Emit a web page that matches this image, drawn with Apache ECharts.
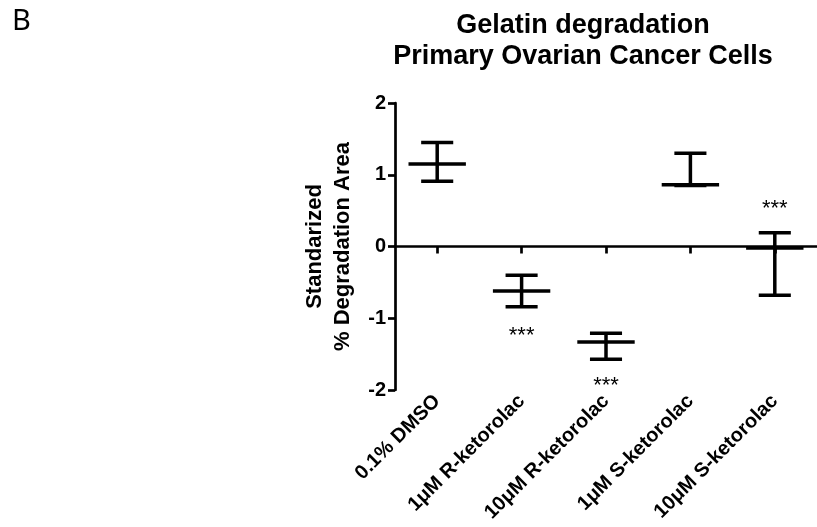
<!DOCTYPE html>
<html>
<head>
<meta charset="utf-8">
<script src="https://cdn.jsdelivr.net/npm/echarts@6/dist/echarts.min.js"></script>
<style>
  html, body { margin: 0; padding: 0; background: #fff; }
  #chart { width: 817px; height: 527px; }
</style>
</head>
<body>
<div id="chart"></div>
<script>
var groups = ['0.1% DMSO', '1μM R-ketorolac', '10μM R-ketorolac', '1μM S-ketorolac', '10μM S-ketorolac'];
var means = [1.15, -0.62, -1.33, 0.86, -0.02];
var upper = [1.45, -0.40, -1.21, 1.30, 0.19];
var lower = [0.91, -0.84, -1.57, 0.85, -0.68];
var starPos = [null, -1.24, -1.94, null, 0.53];
var yTicks = [-2, -1, 0, 1, 2];

var chartDom = document.getElementById('chart');
var myChart = echarts.init(chartDom);
var font = '"Liberation Sans", Arial, sans-serif';

var barData = groups.map((g, i) => [i, means[i], upper[i], lower[i]]);
var starData = [];
starPos.forEach((v, i) => { if (v !== null) starData.push([i, v]); });

function renderBar(params, api) {
  const idx = api.value(0);
  const pm = api.coord([idx, api.value(1)]);
  const pu = api.coord([idx, api.value(2)]);
  const pl = api.coord([idx, api.value(3)]);
  const band = api.size([1, 0])[0];
  const mw = band * 0.34, cw = band * 0.19;
  const st = { stroke: '#000', lineWidth: 3.5, lineCap: 'butt' };
  return {
    type: 'group',
    children: [
      { type: 'line', shape: { x1: pm[0], y1: pu[1], x2: pm[0], y2: pl[1] }, style: st },
      { type: 'line', shape: { x1: pm[0] - cw, y1: pu[1], x2: pm[0] + cw, y2: pu[1] }, style: st },
      { type: 'line', shape: { x1: pm[0] - cw, y1: pl[1], x2: pm[0] + cw, y2: pl[1] }, style: st },
      { type: 'line', shape: { x1: pm[0] - mw, y1: pm[1], x2: pm[0] + mw, y2: pm[1] }, style: st }
    ]
  };
}

function renderStar(params, api) {
  const p = api.coord([api.value(0), api.value(1)]);
  return {
    type: 'text',
    x: p[0], y: p[1],
    style: { text: '***', fontSize: 22, fontFamily: font, fill: '#000', align: 'center', verticalAlign: 'middle' }
  };
}

var option = {
  animation: false,
  title: [
    {
      text: 'Gelatin degradation\nPrimary Ovarian Cancer Cells',
      left: 578, top: 5, textAlign: 'center',
      textStyle: { fontSize: 27, fontWeight: 'bold', fontFamily: font, color: '#000', lineHeight: 31 }
    },
    {
      text: 'B', left: 7, top: 2,
      textStyle: { fontSize: 29, fontWeight: 'normal', fontFamily: '"Noto Sans", sans-serif', color: '#000' }
    }
  ],
  grid: { left: 395, top: 103, width: 430, height: 287 },
  xAxis: [
    {
      type: 'category', data: groups, position: 'bottom',
      axisLine: { show: false, onZero: false }, axisTick: { show: false },
      axisLabel: { rotate: 45, margin: 8, fontSize: 20, fontWeight: 'bold', fontFamily: font, color: '#000', interval: 0 }
    },
    {
      type: 'category', data: groups, position: 'bottom',
      axisLine: { onZero: true, onZeroAxisIndex: 0, lineStyle: { color: '#000', width: 2.7 } },
      axisTick: { show: true, interval: 0, alignWithLabel: true, length: 7, lineStyle: { color: '#000', width: 2.7 } },
      axisLabel: { show: true, interval: 0, color: 'rgba(0,0,0,0)', fontSize: 1 }
    }
  ],
  yAxis: {
    type: 'value', min: yTicks[0], max: yTicks[yTicks.length - 1], interval: 1,
    name: 'Standarized\n% Degradation Area', nameLocation: 'middle', nameGap: 36,
    nameTextStyle: { fontSize: 22, fontWeight: 'bold', fontFamily: font, color: '#000', lineHeight: 28 },
    axisLine: { show: true, lineStyle: { color: '#000', width: 2.7 } },
    axisTick: { show: true, length: 7, lineStyle: { color: '#000', width: 2.7 } },
    axisLabel: { margin: 9, fontSize: 20, fontWeight: 'bold', fontFamily: font, color: '#000' },
    splitLine: { show: false }
  },
  series: [
    { type: 'custom', xAxisIndex: 0, renderItem: renderBar, data: barData, encode: { x: 0, y: [1, 2, 3] } },
    { type: 'custom', xAxisIndex: 0, renderItem: renderStar, data: starData, encode: { x: 0, y: 1 } }
  ]
};

myChart.setOption(option);
</script>
</body>
</html>
